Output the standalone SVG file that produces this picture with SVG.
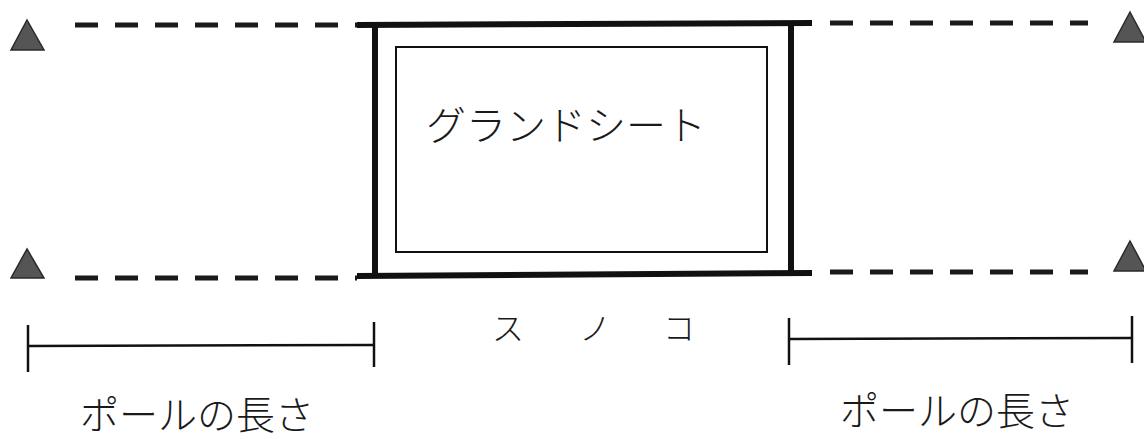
<svg xmlns="http://www.w3.org/2000/svg" width="1144" height="439" viewBox="0 0 1144 439">
<style>
.t{font-family:"Noto Sans CJK JP","Noto Sans",sans-serif;fill:#1a1a1a;font-weight:300}
.dash{stroke:#1a1a1a;stroke-width:5;stroke-dasharray:23 17;fill:none}
.thick{stroke:#111;stroke-width:6;fill:none}
.thin{stroke:#111;stroke-width:2;fill:none}
.dim{stroke:#111;stroke-width:2.5;fill:none}
.pole{fill:#555;stroke:#2a2a2a;stroke-width:1.5}
</style>
<rect width="1144" height="439" fill="#fff"/>
<g id="connectors">
<line class="dash" x1="75" y1="25" x2="357" y2="25"/>
<line class="dash" x1="830" y1="23" x2="1088" y2="23"/>
<line class="dash" x1="75" y1="278" x2="357" y2="278"/>
<line class="dash" x1="830" y1="272" x2="1088" y2="272"/>
</g>
<g id="sunoko">
<line class="thick" x1="357" y1="25" x2="812" y2="23"/>
<line class="thick" x1="357" y1="276" x2="812" y2="273"/>
<line class="thick" x1="375" y1="23" x2="375" y2="278"/>
<line class="thick" x1="791" y1="21" x2="791" y2="275"/>
</g>
<g id="groundsheet">
<rect class="thin" x="396" y="47" width="371" height="205"/>
<text class="t" x="426" y="140" font-size="40">グランドシート</text>
</g>
<g id="pole-top-left"><polygon class="pole" points="27,20 44,50 11,50"/></g>
<g id="pole-bottom-left"><polygon class="pole" points="27,249 44,278 11,278"/></g>
<g id="pole-top-right"><polygon class="pole" points="1130,12 1146,42 1114,42"/></g>
<g id="pole-bottom-right"><polygon class="pole" points="1130,241 1146,271 1114,271"/></g>
<g id="dim-left">
<line class="dim" x1="28" y1="325" x2="28" y2="372"/>
<line class="dim" x1="374" y1="322" x2="374" y2="367"/>
<line class="dim" x1="28" y1="346" x2="374" y2="345"/>
<text class="t" x="80" y="429" font-size="39">ポールの長さ</text>
</g>
<g id="dim-right">
<line class="dim" x1="789" y1="318" x2="789" y2="365"/>
<line class="dim" x1="1132" y1="316" x2="1132" y2="363"/>
<line class="dim" x1="789" y1="339" x2="1132" y2="338"/>
<text class="t" x="840" y="425" font-size="39">ポールの長さ</text>
</g>
<g id="label-sunoko">
<text class="t" font-size="32" x="492 579 663" y="340">スノコ</text>
</g>
</svg>
